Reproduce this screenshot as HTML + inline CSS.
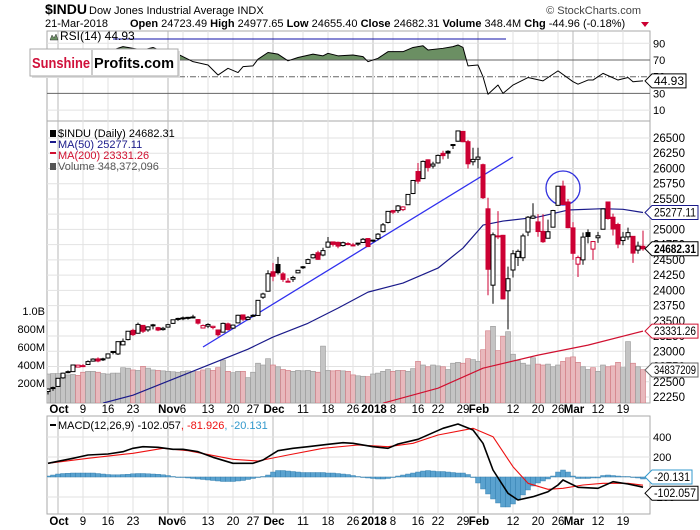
<!DOCTYPE html>
<html><head><meta charset="utf-8"><style>
html,body{margin:0;padding:0;background:#fff;width:700px;height:530px;overflow:hidden}
svg{display:block;font-family:"Liberation Sans",sans-serif}
</style></head><body>
<svg id="chart" width="700" height="530" viewBox="0 0 700 530"></svg>
<script>
// ---- data (trading day index: Oct 2 2017 = 0; arrays start at index -2 = Sep 28) ----
const closes=[22381,22405,
22557,22641,22661,22775,22773,22761,22831,22872,22841,22871,22957,22997,23158,23163,23329,23274,23441,23329,23400,23434,23349,23377,
23436,23517,23539,23548,23557,23564,23462,23422,23440,23410,23272,23458,23358,23430,23591,23526,23558,23580,23836,23940,24272,
24232,24290,24180,24140,24211,24329,24387,24504,24585,24509,24652,24792,24754,24726,24782,24754,24746,24775,24838,24719,
24824,24922,25075,25296,25283,25385,25369,25574,25803,25792,26116,26017,26072,26214,26211,26252,26393,26616,26439,26077,26149,
26187,25521,24346,24912,24893,23860,24191,24601,24640,24893,25200,25219,24965,24798,24962,25310,25709,25410,25029,
24608,24538,24874,24884,24801,24895,25336,25179,25007,24759,24873,24947,24611,24727,24682];
const opens=[22340,22390,
22423,22564,22666,22666,22741,22765,22784,22839,22875,22876,22890,22996,22956,23105,23192,23343,23296,23425,23351,23434,23388,23356,
23397,23458,23531,23549,23549,23560,23520,23382,23413,23390,23350,23314,23450,23380,23466,23597,23523,23590,23588,23887,23986,
24305,24424,24270,24150,24183,24287,24373,24442,24534,24617,24580,24709,24795,24788,24735,24768,24740,24766,24785,24850,
24809,24850,24964,25114,25308,25308,25325,25405,25589,25950,25834,26142,26040,26091,26248,26282,26378,26447,26608,26440,26110,
26151,26062,25338,24085,24894,24903,23993,24334,24541,24535,24957,25184,25123,24968,24855,25037,25395,25710,25450,
25025,24430,24500,24948,24677,24863,25003,25450,25200,25080,24817,24878,24886,24660,24723];
const highs=[22390,22420,
22560,22650,22685,22777,22780,22790,22850,22885,22900,22895,22960,23000,23160,23210,23330,23370,23470,23430,23410,23450,23400,23400,
23450,23520,23550,23570,23565,23600,23530,23440,23460,23420,23350,23470,23470,23440,23600,23600,23580,23610,23840,23960,24330,
24450,24550,24300,24200,24240,24330,24400,24520,24600,24650,24700,24876,24800,24800,24800,24790,24780,24780,24860,24860,
24830,24940,25105,25300,25320,25400,25380,25580,25810,26090,26130,26150,26110,26230,26290,26300,26400,26620,26610,26470,26340,
26340,26080,25520,24950,25300,24910,24390,24660,24670,24930,25220,25430,25250,25250,25160,25320,25710,25800,25500,
25120,24570,24950,25000,24810,24960,25340,25450,25260,25110,24960,25030,24890,24800,24980];
const lows=[22290,22350,
22420,22550,22640,22660,22740,22740,22780,22830,22820,22840,22880,22950,22940,23100,23180,23250,23290,23300,23320,23360,23330,23340,
23390,23450,23500,23510,23520,23540,23440,23380,23380,23360,23240,23310,23340,23370,23460,23500,23510,23560,23580,23860,23980,
24150,24260,24140,24130,24140,24280,24350,24440,24520,24500,24560,24700,24720,24690,24720,24740,24720,24730,24780,24710,
24790,24820,24950,25100,25250,25270,25300,25400,25580,25750,25830,25950,26000,26080,26150,26160,26320,26440,26430,26000,26050,
26000,25500,23920,23780,24840,23850,23360,24210,24400,24480,24890,25170,24880,24780,24850,25030,25390,25400,25020,
24500,24220,24420,24770,24500,24780,25000,25160,24900,24690,24740,24830,24450,24600,24650];
const volumesM=[300,305,
305,290,290,295,285,320,330,330,320,305,300,310,310,370,365,345,340,385,365,345,340,335,
330,325,320,330,335,330,325,345,360,340,370,455,330,315,330,330,260,320,420,400,470,
400,380,350,340,330,340,335,340,330,320,610,340,335,340,335,330,290,280,275,270,
300,310,330,350,330,340,340,330,360,440,400,380,400,390,380,350,420,430,420,470,460,
440,570,780,830,560,720,770,520,450,420,400,480,410,400,410,380,400,440,480,
490,430,380,350,370,330,400,380,390,430,370,660,420,380,348];
const ma50Days=[9,15,25,38,43,50,56,62,69,76,81,85,89,96,102,109,113,117];
const ma50Vals=[22150,22280,22608,23035,23233,23460,23708,23971,24119,24365,24694,25071,25137,25203,25318,25340,25330,25277];
const ma200Days=[65,76,85,96,106,117];
const ma200Vals=[22149,22395,22723,22937,23101,23331];
const rsiDays=[-2,2,6,10,13,15,17,19,21,24,27,30,32,34,36,37,39,40,42,44,46,48,51,53,54,56,59,61,62,64,66,69,71,73,74,77,79,80,81,82,84,85,86,88,89,91,94,97,100,103,104,106,107,109,112,114,115,117];
const rsiVals=[60,68,75,80,86,84,82,85,80,77,68,64,52,60,55,62,63,71,79,77,69,73,77,75,78,75,76,74,68,72,80,80,85,87,82,84,86,88,85,63,64,50,29,40,30,40,49,45,57,44,41,46,46,54,46,49,44,45];
const macdDays=[-2,3,6,10,13,15,17,20,23,25,28,31,35,39,41,44,47,50,54,57,59,63,66,68,72,75,77,80,83,85,87,90,92,95,98,100,101,104,108,111,114,117];
const macdVals=[137,187,220,230,253,287,303,297,277,277,253,197,137,137,170,263,287,303,327,343,337,303,287,330,377,443,487,530,470,337,70,-163,-230,-197,-147,-80,-30,-103,-113,-47,-70,-102];
const sigDays=[-2,6,15,21,26,35,40,46,53,60,66,71,76,83,87,91,94,98,101,105,109,114,117];
const sigVals=[137,187,237,287,263,177,160,220,287,320,303,337,420,487,403,103,-63,-123,-113,-80,-63,-63,-82];
const histVals=[10,20,
30,35,38,40,40,40,40,40,35,
30,25,22,22,25,28,
33,35,35,33,30,28,
22,15,5,0,-5,-10,
-15,-20,-25,-30,-35,-40,-45,-45,-45,-40,
-35,-25,-15,-5,5,20,
50,65,65,60,55,50,
45,45,45,45,45,40,40,35,
30,25,15,5,-5,-10,
-15,-20,-20,-15,-5,10,
20,30,40,50,60,65,60,55,
55,50,45,40,40,25,
-5,-60,-120,-170,-220,-260,-300,-300,-270,-230,-180,-130,-90,-60,-40,-20,10,50,70,50,10,-15,-15,-15,-10,-10,15,20,15,10,5,5,-5,-10,-20];
const priceTicks=[22250,22500,22750,23000,23250,23500,23750,24000,24250,24500,24750,25000,25250,25500,25750,26000,26250,26500];
const volTicks=[200,400,600,800,1000];
const volTickLabels=["200M","400M","600M","800M","1.0B"];
const rsiTicks=[90,70,50,30,10];
const macdTicks=[400,200,-200];
const dateTickDays=[0,5,10,15,22,25,30,35,39,43,49,54,59,63,67,72,76,81,84,91,96,100,103,108,113];
const dateTickLabels=["Oct","9","16","23","Nov","6","13","20","27","Dec","11","18","26","2018","8","16","22","29","Feb","12","20","26","Mar","12","19"];
const monthTicks=["Oct","Nov","Dec","2018","Feb","Mar"];

// ---- scales ----
const PL=47,PR=650;
const xOf=d=>58+d*5;
const yP=p=>138+(26500-p)*0.06094;
const yV=v=>401-v*0.09;
const yR=v=>60+(70-v)*0.835;
const yM=v=>477-v*0.1;
const NS="http://www.w3.org/2000/svg";
const svg=document.getElementById('chart');
function mk(tag,attrs,parent){const e=document.createElementNS(NS,tag);for(const k in attrs)e.setAttribute(k,attrs[k]);(parent||svg).appendChild(e);return e;}
function txt(s,attrs,parent){const e=mk('text',attrs,parent);e.textContent=s;return e;}

const defs=mk('defs',{});
const c1=mk('clipPath',{id:'mainClip'},defs);mk('rect',{x:PL,y:121,width:PR-PL,height:282},c1);
const c2=mk('clipPath',{id:'rsiAbove'},defs);mk('rect',{x:PL,y:31,width:PR-PL,height:yR(70)-31},c2);
const c3=mk('clipPath',{id:'rsiBelow'},defs);mk('rect',{x:PL,y:yR(30),width:PR-PL,height:121-yR(30)},c3);
const c4=mk('clipPath',{id:'macdClip'},defs);mk('rect',{x:PL,y:416,width:PR-PL,height:98},c4);

// header
let t=txt('$INDU',{x:45,y:14,'font-size':14,'font-weight':'bold',fill:'#000'});

t=txt('Dow Jones Industrial Average INDX',{x:89,y:14,'font-size':11,fill:'#000'});

t=txt('© StockCharts.com',{x:641,y:14,'font-size':11,fill:'#444','text-anchor':'end'});

t=txt('21-Mar-2018',{x:45,y:27,'font-size':11,fill:'#000'});

const ql=mk('text',{x:130,y:27,'font-size':11,fill:'#000'});

ql.innerHTML='<tspan font-weight="bold">Open</tspan> 24723.49 <tspan font-weight="bold">High</tspan> 24977.65 <tspan font-weight="bold">Low</tspan> 24655.40 <tspan font-weight="bold">Close</tspan> 24682.31 <tspan font-weight="bold">Volume</tspan> 348.4M <tspan font-weight="bold">Chg</tspan> -44.96 (-0.18%)';
const tri=mk('polygon',{points:'641,22 649,22 645,27',fill:'#cc0033'});


[[31,121,'rsi-panel'],[121,403,'price-panel'],[416,514,'macd-panel']].forEach(([a,b,n])=>{
 const r=mk('rect',{x:PL,y:a,width:PR-PL,height:b-a,fill:'#fff',stroke:'#aaa','stroke-width':1});
 
});

dateTickDays.forEach((d,i)=>{
 const month=monthTicks.includes(dateTickLabels[i]);
 [[31,121],[121,403],[416,514]].forEach(([a,b])=>{
  const l=mk('line',{x1:xOf(d),x2:xOf(d),y1:a,y2:b,stroke:month?'#b8b8b8':'#e2e2e2','stroke-width':1});
  
 });
 [413,525].forEach(yy=>{
  const lt=txt(dateTickLabels[i],{x:xOf(d)+(month?1:0),y:yy,'font-size':11.5,'font-weight':month?'bold':'normal','text-anchor':'middle',fill:'#000'});
  
 });
});

priceTicks.forEach(p=>{
 const l=mk('line',{x1:PL,x2:PR,y1:yP(p),y2:yP(p),stroke:'#e2e2e2'});
 
 const lt=txt(String(p),{x:653,y:yP(p)+4,'font-size':11.5,fill:'#000'});
 
});
volTicks.forEach((v,i)=>{
 const lt=txt(volTickLabels[i],{x:45,y:yV(v)+4,'font-size':11,fill:'#000','text-anchor':'end'});
 
});

const g=mk('g',{'clip-path':'url(#mainClip)'});

volumesM.forEach((v,k)=>{
 const d=k-2;const down=k>0&&closes[k]<closes[k-1];
 const b=mk('rect',{x:xOf(d)-2.5,y:yV(v),width:5,height:403-yV(v),fill:down?'#e8b8bc':'#c4c4c4',stroke:down?'#d07880':'#999','stroke-width':0.6},g);
 
});
function poly(days,vals,yf,attrs,parent,name){
 const pts=days.map((d,i)=>xOf(d)+','+yf(vals[i])).join(' ');
 const p=mk('polyline',Object.assign({points:pts,fill:'none','stroke-linejoin':'round'},attrs),parent);
 return p;
}
poly(ma200Days,ma200Vals,yP,{stroke:'#d01030','stroke-width':1.2},g,'ma200-line');
poly(ma50Days,ma50Vals,yP,{stroke:'#1a1a8a','stroke-width':1.2},g,'ma50-line');
let tl=mk('line',{x1:203,y1:347,x2:513,y2:157,stroke:'#3030ee','stroke-width':1.3},g);

tl=mk('circle',{cx:563,cy:188,r:17,fill:'none',stroke:'#3030dd','stroke-width':1.3},g);

closes.forEach((c,k)=>{
 const d=k-2,o=opens[k],x=xOf(d);
 const down=k>0&&c<closes[k-1];
 const col=down?'#cc0033':'#000';
 const w=mk('line',{x1:x,x2:x,y1:yP(highs[k]),y2:yP(lows[k]),stroke:col,'stroke-width':1},g);
 
 const top=yP(Math.max(o,c)),h=Math.max(1,Math.abs(yP(o)-yP(c)));
 const b=mk('rect',{x:x-2,y:top,width:4,height:h,fill:c>=o?'#fff':col,stroke:col,'stroke-width':1},g);
 
});

const leg=[['$INDU (Daily) 24682.31','#000','legend-price'],['MA(50) 25277.11','#1a1a8a','legend-ma50'],['MA(200) 23331.26','#d01030','legend-ma200'],['Volume 348,372,096','#555','legend-volume']];
leg.forEach(([s,c,n],i)=>{
 const y=135+i*11;
 const m=mk('rect',{x:50,y:y-5,width:6,height:i==0||i==3?7:2,fill:c});
 
 const lt=txt(s,{x:58,y:y+2,'font-size':11,fill:c});
 
});

// RSI panel
[90,10].forEach(v=>{const l=mk('line',{x1:PL,x2:PR,y1:yR(v),y2:yR(v),stroke:'#e2e2e2'});});
const rsiPts=rsiDays.map((d,i)=>xOf(d)+','+yR(rsiVals[i]));
const x0=xOf(rsiDays[0]),x1=xOf(rsiDays[rsiDays.length-1]);
let f=mk('polygon',{points:x0+','+yR(70)+' '+rsiPts.join(' ')+' '+x1+','+yR(70),fill:'#6b8f63','clip-path':'url(#rsiAbove)'});

f=mk('polygon',{points:x0+','+yR(30)+' '+rsiPts.join(' ')+' '+x1+','+yR(30),fill:'#6b8f63','clip-path':'url(#rsiBelow)'});

[70,30].forEach(v=>{const l=mk('line',{x1:PL,x2:PR,y1:yR(v),y2:yR(v),stroke:'#666','stroke-width':1});});
let l5=mk('line',{x1:PL,x2:PR,y1:yR(50),y2:yR(50),stroke:'#666','stroke-dasharray':'6,2,1,2'});

poly(rsiDays,rsiVals,yR,{stroke:'#000','stroke-width':1},svg,'rsi-line');
rsiTicks.forEach(v=>{const lt=txt(String(v),{x:653,y:yR(v)+4,'font-size':11,fill:'#000'});});
let bl=mk('line',{x1:113,x2:506,y1:39,y2:39,stroke:'#1010aa','stroke-width':1});

t=txt('RSI(14) 44.93',{x:60,y:40,'font-size':12,fill:'#000'});

let ri=mk('polygon',{points:'50,40 52,35 54,38 56,34 58,40',fill:'#6b8f63',stroke:'#333','stroke-width':0.5});


// logo
const lg=mk('g',{});

mk('rect',{x:32,y:51,width:148,height:27,fill:'#ddd'},lg);
mk('rect',{x:30,y:49,width:148,height:27,fill:'#fff',stroke:'#aaa'},lg);
mk('line',{x1:92,x2:92,y1:50,y2:75,stroke:'#999'},lg);
t=txt('Sunshine',{x:32,y:68,'font-size':15,'font-weight':'bold',fill:'#d0103a',textLength:58,lengthAdjust:'spacingAndGlyphs'},lg);

t=txt('Profits.com',{x:94,y:68,'font-size':15,'font-weight':'bold',fill:'#000',textLength:80,lengthAdjust:'spacingAndGlyphs'},lg);


// MACD panel
macdTicks.concat([0]).forEach(v=>{const l=mk('line',{x1:PL,x2:PR,y1:yM(v),y2:yM(v),stroke:'#e2e2e2'});});
const mg=mk('g',{'clip-path':'url(#macdClip)'});

histVals.forEach((v,k)=>{
 const d=k-2;
 const b=mk('rect',{x:xOf(d)-2.5,y:Math.min(yM(v),yM(0)),width:5,height:Math.max(0.5,Math.abs(yM(v)-yM(0))),fill:'#5aa2cf',stroke:'#2f7aaa','stroke-width':0.4},mg);
 
});
poly(sigDays,sigVals,yM,{stroke:'#ee1111','stroke-width':1.1},mg,'macd-signal-line');
poly(macdDays,macdVals,yM,{stroke:'#000','stroke-width':1.6},mg,'macd-line');
macdTicks.forEach(v=>{const lt=txt(String(v),{x:653,y:yM(v)+4,'font-size':11,fill:'#000'});});
const ml=mk('text',{x:58,y:429,'font-size':11,fill:'#000'});

ml.innerHTML='MACD(12,26,9) -102.057<tspan fill="#ee1111">, -81.926</tspan><tspan fill="#3399cc">, -20.131</tspan>';
let mm=mk('rect',{x:50,y:424,width:6,height:2,fill:'#000'});


// value tags
function tag(y,s,border,bold,name,w){
 const gg=mk('g',{});
 
 mk('polygon',{points:`645,${y} 652,${y-7} ${652+w},${y-7} ${652+w},${y+7} 652,${y+7}`,fill:'#fff',stroke:border,'stroke-width':1},gg);
 txt(s,{x:654,y:y+4,'font-size':11.5,'font-weight':bold?'bold':'normal',fill:'#000',textLength:w-4,lengthAdjust:'spacingAndGlyphs'},gg);
}
tag(yR(44.93),'44.93','#000',false,'rsi-value-tag',34);
tag(yP(25277.11),'25277.11','#1a1a8a',false,'ma50-value-tag',46);
tag(yP(24682.31),'24682.31','#000',true,'price-value-tag',46);
tag(yP(23331.26),'23331.26','#d01030',false,'ma200-value-tag',46);
tag(370,'34837209','#666',false,'volume-value-tag',46);
tag(yM(-20.131)-2,'-20.131','#3399cc',false,'macd-hist-value-tag',40);
tag(yM(-102.057)+6,'-102.057','#000',false,'macd-value-tag',46);
</script>
</body></html>
